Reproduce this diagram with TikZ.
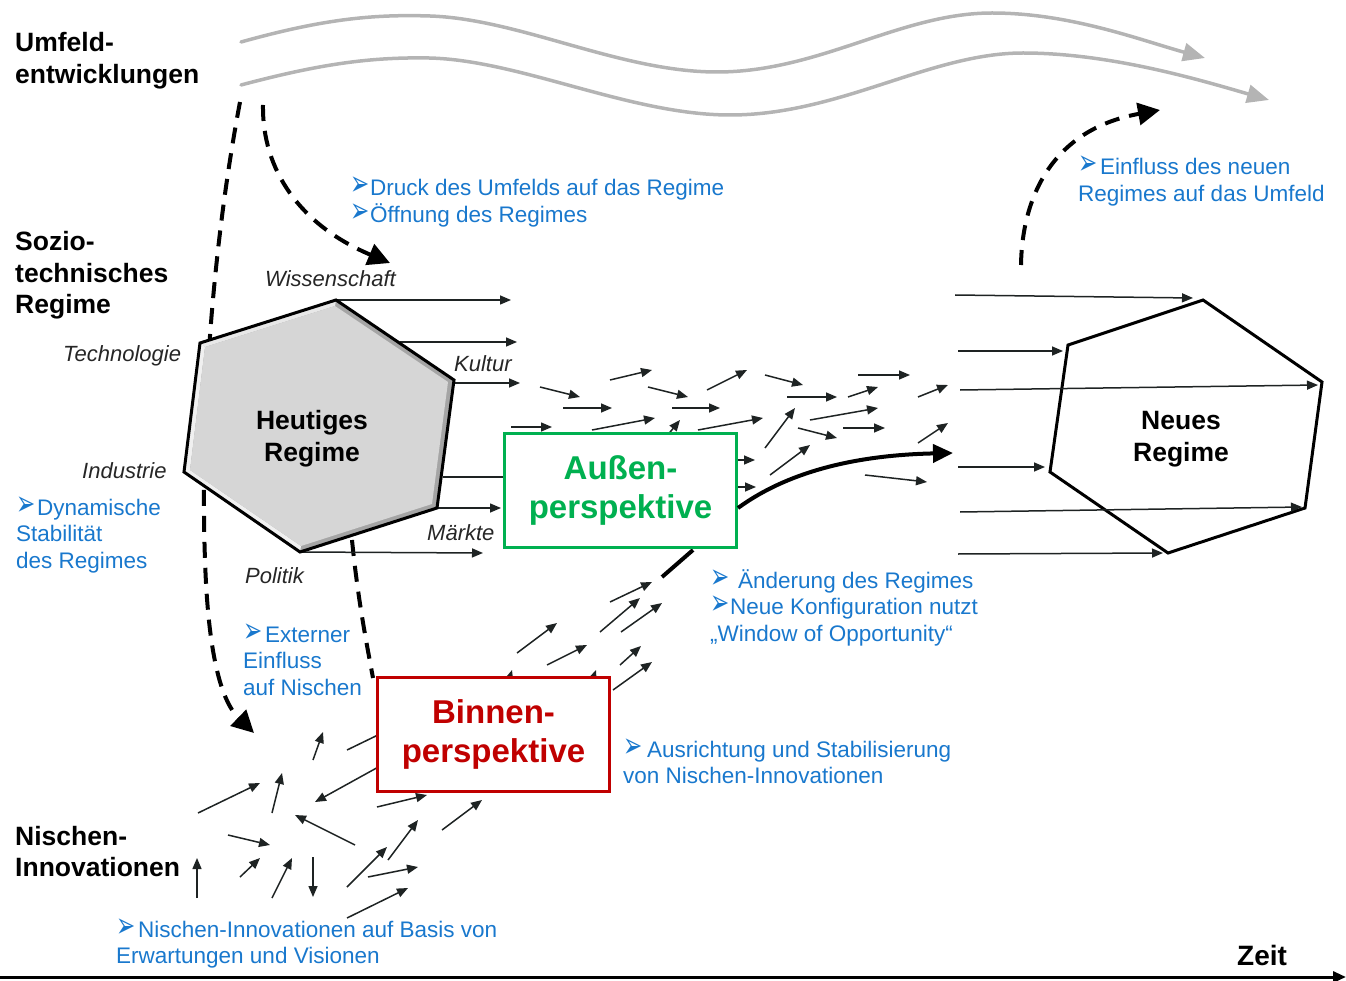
\documentclass[tikz,border=0pt]{standalone}
\usepackage{fontspec}
\usepackage{graphicx}
\setmainfont{Liberation Sans}
\newfontfamily\dvfont{DejaVu Sans}
\usetikzlibrary{arrows.meta}
\definecolor{bl}{RGB}{25,120,205}
\definecolor{gr}{RGB}{0,176,80}
\definecolor{rd}{RGB}{192,0,0}
\definecolor{wv}{RGB}{180,180,180}
\definecolor{ar}{RGB}{30,35,35}
\definecolor{hexfill}{RGB}{214,214,214}
\definecolor{hexdark}{RGB}{165,165,165}
\definecolor{hexlight}{RGB}{240,240,240}
\newcommand\bul[1]{\makebox[#1][l]{\raisebox{0pt}[0pt][0pt]{\scalebox{0.85}[1.3]{\dvfont\fontsize{27}{27}\selectfont ➢}}}}
\tikzset{
  fa/.style={draw=ar, line width=1.5pt, -{Triangle[length=11pt,width=9pt]}},
  fl/.style={draw=ar, line width=1.5pt},
  wave/.style={draw=wv, line width=3.5pt, line cap=round, -{Triangle[length=22pt,width=18pt]}},
  bigdash/.style={draw=black, line width=4pt, dash pattern=on 16pt off 10pt, -{Triangle[length=22pt,width=22pt]}},
  hexline/.style={draw=black, line width=3pt, line join=miter},
  lab/.style={font=\fontsize{26.5}{31.5}\selectfont\bfseries, align=left, anchor=base west, inner sep=0pt},
  ital/.style={font=\fontsize{22}{25}\selectfont\itshape, text=black!85, inner sep=0pt, anchor=base west},
  blu/.style={font=\fontsize{22.5}{26.7}\selectfont, text=bl, align=left, anchor=base west, inner sep=0pt},
  persp/.style={draw=#1, text=#1, line width=3pt, fill=white, minimum width=232pt, minimum height=114pt,
    align=center, font=\fontsize{33}{39}\selectfont\bfseries, inner sep=0pt},
  hextext/.style={align=center, font=\fontsize{26.5}{32}\selectfont\bfseries, inner sep=0pt}
}
\begin{document}
\begin{tikzpicture}[x=1pt,y=-1pt]
\useasboundingbox (0,0) rectangle (1346,981);

% ---------- environment waves ----------
\draw[wave] (241,42) .. controls (320,20) and (370,14) .. (430,16)
  .. controls (520,19) and (620,72) .. (717,72)
  .. controls (820,72) and (900,13) .. (992,13)
  .. controls (1070,13) and (1140,40) .. (1205,58);
\draw[wave] (241,85) .. controls (320,64) and (370,57) .. (429,58)
  .. controls (520,60) and (630,115) .. (730,115)
  .. controls (840,115) and (930,53) .. (1023,53)
  .. controls (1110,53) and (1200,80) .. (1269,100);

% ---------- dashed influence arrows ----------
\coordinate (d1s) at (240,102);
\coordinate (d1e) at (254,733);
\draw[bigdash] (d1s) .. controls (212,250) and (200,420) .. (205,560)
  .. controls (208,650) and (220,700) .. (d1e);
\coordinate (d2s) at (263,105);
\coordinate (d2e) at (390,263);
\draw[bigdash] (d2s) .. controls (262,170) and (300,225) .. (d2e);
\coordinate (d4s) at (1021,265);
\coordinate (d4e) at (1160,110);
\draw[bigdash, dash pattern=on 15pt off 10pt] (d4s) .. controls (1022,200) and (1050,130) .. (d4e);

% ---------- left hexagon: Heutiges Regime ----------
\coordinate (h1) at (336,300);
\coordinate (h2) at (454,380);
\coordinate (h3) at (437,508);
\coordinate (h4) at (300,552);
\coordinate (h5) at (184,472);
\coordinate (h6) at (200,343);
\coordinate (i1) at (335,306);
\coordinate (i2) at (448,382);
\coordinate (i3) at (432,504);
\coordinate (i4) at (301,546);
\coordinate (i5) at (190,470);
\coordinate (i6) at (205,347);

% middle dashed line (behind hexagon)
\coordinate (d3s) at (352,540);
\draw[draw=black, line width=4pt, dash pattern=on 16pt off 10pt] (d3s) .. controls (358,600) and (366,640) .. (373,678);

% arrows leaving the hexagon
\draw[fa] (h1) -- (511,300);
\draw[fa] (400,342) -- (517,342);
\draw[fa] (h2) ++(0,3) -- (520,383);
\draw[fa] (511,427) -- (552,427);
\draw[fl] (443,477) -- (505,477);
\draw[fa] (h3) -- (501,508);
\draw[fa] (h4) -- (483,553);

\fill[hexdark] (h1) -- (h2) -- (h3) -- (h4) -- (h5) -- (h6) -- cycle;
\fill[hexlight] (h6) -- (h5) -- (h4) -- (i4) -- (i5) -- (i6) -- cycle;
\fill[hexlight!70!hexfill] (h1) -- (h6) -- (i6) -- (i1) -- cycle;
\fill[hexfill] (i1) -- (i2) -- (i3) -- (i4) -- (i5) -- (i6) -- cycle;
\draw[hexline] (h1) -- (h2) -- (h3) -- (h4) -- (h5) -- (h6) -- cycle;
\node[hextext] (heute) at (312,439) {Heutiges\\Regime};

% ---------- arrow field (upper) ----------
\draw[fa] (540,387) -- (580,397);
\draw[fa] (610,380) -- (652,370);
\draw[fa] (563,408) -- (612,408);
\draw[fa] (648,387) -- (688,397);
\draw[fa] (672,408) -- (720,408);
\draw[fa] (707,390) -- (747,370);
\draw[fa] (765,375) -- (803,385);
\draw[fa] (858,375) -- (910,375);
\draw[fa] (787,397) -- (837,397);
\draw[fa] (848,397) -- (878,387);
\draw[fa] (918,397) -- (948,385);
\draw[fa] (592,430) -- (655,418);
\draw[fa] (662,442) -- (680,420);
\draw[fa] (698,430) -- (763,418);
\draw[fa] (765,448) -- (795,408);
\draw[fa] (810,420) -- (878,408);
\draw[fa] (798,428) -- (837,438);
\draw[fa] (843,428) -- (885,428);
\draw[fa] (918,443) -- (948,423);
\draw[fa] (720,460) -- (755,460);
\draw[fa] (720,487) -- (756,487);
\draw[fa] (770,475) -- (810,445);
\draw[fa] (865,475) -- (927,482);

% ---------- arrow field (lower) ----------
\draw[fa] (517,653) -- (557,623);
\draw[fa] (547,665) -- (587,645);
\draw[fa] (610,602) -- (652,582);
\draw[fa] (600,632) -- (640,598);
\draw[fa] (621,632) -- (662,603);
\draw[fa] (620,665) -- (641,646);
\draw[fa] (613,690) -- (652,662);
\draw[fa] (503,700) -- (512,670);
\draw[fa] (585,700) -- (596,670);
\draw[fa] (313,760) -- (323,732);
\draw[fl] (347,750) -- (380,734);
\draw[fa] (198,813) -- (260,783);
\draw[fa] (272,813) -- (282,773);
\draw[fa] (382,765) -- (315,802);
\draw[fa] (377,807) -- (427,795);
\draw[fa] (355,845) -- (295,815);
\draw[fa] (228,835) -- (270,845);
\draw[fa] (240,877) -- (260,858);
\draw[fa] (272,898) -- (292,858);
\draw[fa] (313,857) -- (313,897);
\draw[fa] (347,887) -- (387,847);
\draw[fa] (388,860) -- (418,820);
\draw[fa] (368,877) -- (418,867);
\draw[fa] (347,918) -- (408,888);
\draw[fa] (442,830) -- (482,800);

% ---------- thick transition path ----------
\draw[line width=4pt] (662,577) -- (693,550);

% ---------- perspective boxes ----------
\node[persp=gr] (aussen) at (620.5,490.5) {Außen-\\perspektive};
\node[persp=rd] (binnen) at (493.5,734.5) {Binnen-\\perspektive};

\draw[line width=4pt, -{Triangle[length=20pt,width=18pt]}]
  ([yshift=-17.5pt]aussen.east) .. controls (790,470) and (860,455) .. (953,453);

% ---------- right hexagon: Neues Regime ----------
\coordinate (n1) at (1203,300);
\coordinate (n2) at (1322,382);
\coordinate (n3) at (1305,508);
\coordinate (n4) at (1168,553);
\coordinate (n5) at (1050,472);
\coordinate (n6) at (1068,345);
\draw[hexline] (n1) -- (n2) -- (n3) -- (n4) -- (n5) -- (n6) -- cycle;
\draw[fa] (955,295) -- (1193,298);
\draw[fa] (958,351) -- (1063,351);
\draw[fa] (960,390) -- (1318,385);
\draw[fa] (958,467) -- (1045,467);
\draw[fa] (960,512) -- (1302,507);
\draw[fa] (958,554) -- (1163,553);
\node[hextext] (neu) at (1181,439) {Neues\\Regime};

% ---------- left level labels (anchor = baseline of last line) ----------
\node[lab] (umfeld) at (15,83.5) {Umfeld-\\entwicklungen};
\node[lab] (sozio) at (15,314) {Sozio-\\technisches\\Regime};
\node[lab] (nischen) at (15,876.5) {Nischen-\\Innovationen};
\draw[fa] (197,898) -- (197,858);

% ---------- italic dimension labels ----------
\node[ital] (wiss) at (265,287) {Wissenschaft};
\node[ital] (tech) at (63,362) {Technologie};
\node[ital] (kult) at (454,371) {Kultur};
\node[ital] (indu) at (82,478) {Industrie};
\node[ital] (mark) at (427,540) {Märkte};
\node[ital] (poli) at (245,583) {Politik};

% ---------- blue comments (anchor = baseline of last line) ----------
\node[blu] (c1) at (350,222.7) {\bul{20pt}Druck des Umfelds auf das Regime\\\bul{20pt}Öffnung des Regimes};
\node[blu] (c2) at (1078,201.7) {\bul{22pt}Einfluss des neuen\\Regimes auf das Umfeld};
\node[blu] (c3) at (16,568.4) {\bul{21pt}Dynamische\\Stabilität\\des Regimes};
\node[blu] (c4) at (243,695.4) {\bul{22pt}Externer\\Einfluss\\auf Nischen};
\node[blu] (c5) at (710,641.4) {\bul{28pt}Änderung des Regimes\\\bul{20pt}Neue Konfiguration nutzt\\„Window of Opportunity“};
\node[blu] (c6) at (623,783.7) {\bul{24pt}Ausrichtung und Stabilisierung\\von Nischen-Innovationen};
\node[blu] (c7) at (116,963.7) {\bul{22pt}Nischen-Innovationen auf Basis von\\Erwartungen und Visionen};

% ---------- time axis ----------
\coordinate (t0) at (0,977);
\coordinate (t1) at (1346,977);
\draw[line width=3pt, -{Triangle[length=13pt,width=11pt]}] (t0) -- (t1);
\node[font=\fontsize{28}{28}\selectfont\bfseries, anchor=base west, inner sep=0pt] (zeit) at (1237,965) {Zeit};
\end{tikzpicture}
\end{document}
